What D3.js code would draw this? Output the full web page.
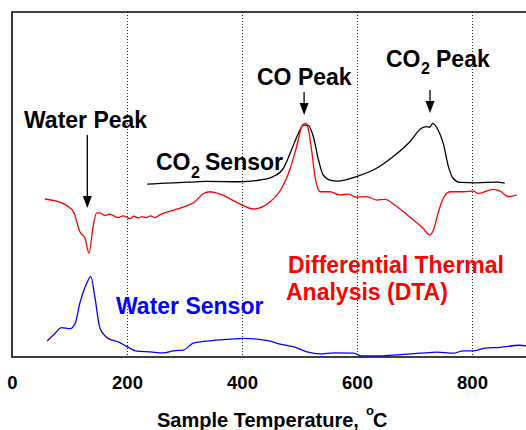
<!DOCTYPE html>
<html>
<head>
<meta charset="utf-8">
<script src="https://cdn.jsdelivr.net/npm/d3@7"></script>
<style>
  body { margin: 0; background: #fff; }
  svg { display: block; font-family: "Liberation Sans", Arial, sans-serif; font-weight: bold; }
</style>
</head>
<body>
<div id="chart"></div>
<script>
// temperature (°C), signal (arbitrary units, 0-100)
const dtaPoints = [
  [57, 45.8], [84, 44.8], [107, 42.1], [118, 36.3], [127, 34.4], [134, 30.1],
  [141, 37.8], [147, 41.7], [153, 41.8], [162, 41.0], [170, 41.4], [177, 40.9],
  [185, 40.4], [193, 40.9], [200, 40.5], [205, 40.1], [212, 40.8], [220, 40.3],
  [226, 40.7], [233, 40.4], [241, 40.9], [249, 40.4], [257, 41.2], [281, 42.6],
  [304, 43.8], [318, 45.0], [333, 47.4], [344, 47.9], [362, 47.2], [397, 44.3],
  [420, 42.9], [449, 45.0], [469, 48.9], [483, 54.2], [495, 61.0], [505, 67.2],
  [510, 67.7], [515, 66.3], [521, 60.0], [527, 52.3], [536, 47.9], [553, 47.9],
  [570, 47.0], [585, 47.2], [599, 46.3], [617, 46.5], [634, 45.5], [649, 45.7],
  [669, 43.6], [698, 39.7], [715, 37.3], [726, 35.4], [733, 36.8], [741, 41.7],
  [750, 46.0], [762, 47.9], [785, 47.9], [802, 48.1], [811, 47.4], [837, 48.6],
  [849, 48.1], [863, 46.5], [878, 46.9]
];

const co2Points = [
  [235, 50.1], [258, 50.3], [281, 50.5], [310, 50.7], [339, 50.9], [397, 50.8],
  [431, 51.3], [454, 52.3], [472, 54.7], [486, 60.0], [498, 64.8], [507, 67.2],
  [515, 67.2], [524, 63.9], [533, 57.1], [541, 52.8], [553, 51.3], [567, 51.0],
  [599, 52.3], [634, 54.7], [663, 58.1], [692, 62.4], [712, 66.3], [721, 66.8],
  [726, 66.6], [732, 67.7], [741, 65.8], [750, 61.9], [759, 55.2], [767, 51.8],
  [779, 50.6], [808, 50.5], [843, 50.7], [857, 50.4]
];

const waterPoints = [
  [61, 4.6], [75, 6.9], [86, 8.5], [101, 8.2], [110, 9.8], [118, 15.6],
  [130, 21.4], [137, 23.3], [144, 17.5], [153, 8.3], [167, 5.4], [185, 4.4],
  [200, 3.0], [217, 1.7], [240, 1.5], [263, 1.2], [281, 1.8], [298, 2.0],
  [315, 4.0], [344, 4.7], [373, 5.1], [402, 5.4], [426, 5.2], [449, 4.6],
  [466, 3.7], [489, 3.0], [513, 1.5], [536, 0.9], [559, 1.2], [594, 1.1],
  [608, 0.3], [640, 0.3], [675, 0.7], [710, 1.1], [739, 1.4], [767, 1.1],
  [785, 1.8], [802, 1.8], [820, 2.5], [849, 2.8], [883, 3.4], [894, 3.2]
];

const xTicks = [0, 200, 400, 600, 800];
const gridTicks = [200, 400, 600, 800];

const width = 526, height = 430;
const plot = { left: 12, top: 12, bottom: 357 };

const svg = d3.select("#chart").append("svg")
  .attr("width", width)
  .attr("height", height);

const x = d3.scaleLinear().domain([0, 900]).range([plot.left, plot.left + 900 * 0.575]);
const y = d3.scaleLinear().domain([0, 100]).range([plot.bottom, plot.top]);

// dotted gridlines
svg.selectAll(".grid")
  .data(gridTicks)
  .enter()
  .append("line")
  .attr("class", "grid")
  .attr("x1", d => x(d) + 0.5).attr("x2", d => x(d) + 0.5)
  .attr("y1", plot.top).attr("y2", plot.bottom)
  .attr("stroke", "#222")
  .attr("stroke-width", 1)
  .attr("stroke-dasharray", "1,2");

// frame (right side runs off the page)
svg.append("path")
  .attr("d", `M${width + 5},${plot.top}H${plot.left}V${plot.bottom}H${width + 5}`)
  .attr("fill", "none")
  .attr("stroke", "#000")
  .attr("stroke-width", 1.6);

const line = d3.line()
  .x(d => x(d[0]))
  .y(d => y(d[1]))
  .curve(d3.curveMonotoneX);

const series = [
  { points: co2Points, color: "#000" },
  { points: dtaPoints, color: "#ff0000" },
  { points: waterPoints, color: "#0000ff" }
];

svg.selectAll(".curve")
  .data(series)
  .enter()
  .append("path")
  .attr("class", "curve")
  .attr("d", d => line(d.points))
  .attr("fill", "none")
  .attr("stroke", d => d.color)
  .attr("stroke-width", 1.3);

// x axis
const xAxis = svg.append("g")
  .attr("transform", `translate(0,${plot.bottom})`)
  .call(d3.axisBottom(x).tickValues(xTicks).tickSize(0).tickPadding(19));
xAxis.select(".domain").remove();
xAxis.selectAll("text")
  .attr("fill", "#000")
  .style("font-family", "Liberation Sans, Arial, sans-serif")
  .style("font-weight", "bold")
  .style("font-size", "18.5px");

// axis title
const title = svg.append("text")
  .attr("x", 157).attr("y", 427)
  .style("font-size", "20px")
  .attr("fill", "#000");
title.append("tspan").text("Sample Temperature, ");
title.append("tspan").attr("x", 366).attr("dy", -12).style("font-size", "13px").text("o");
title.append("tspan").attr("x", 373).attr("dy", 12).text("C");

// arrows
function arrow(t, y1, y2) {
  const xp = x(t);
  svg.append("line")
    .attr("x1", xp).attr("x2", xp)
    .attr("y1", y1).attr("y2", y2 - 10)
    .attr("stroke", "#000").attr("stroke-width", 1.3);
  svg.append("path")
    .attr("d", `M${xp - 4.5},${y2 - 12}L${xp + 4.5},${y2 - 12}L${xp},${y2}Z`)
    .attr("fill", "#000");
}
arrow(131, 135, 208);
arrow(508, 92, 115);
arrow(727, 90, 113);

// labels
function label(xp, yp, text, color) {
  return svg.append("text")
    .attr("x", xp).attr("y", yp)
    .attr("fill", color)
    .style("font-size", "23px")
    .text(text);
}
label(24, 128, "Water Peak", "#000");
label(257, 85, "CO Peak", "#000");
label(116, 314, "Water Sensor", "#0000ff");

const dtaLabel = svg.append("text").attr("fill", "#ff0000").style("font-size", "23px");
dtaLabel.append("tspan").attr("x", 288).attr("y", 273).text("Differential Thermal");
dtaLabel.append("tspan").attr("x", 286).attr("y", 300).text("Analysis (DTA)");

const co2Sensor = svg.append("text").attr("fill", "#000").style("font-size", "23px");
co2Sensor.append("tspan").attr("x", 156).attr("y", 170).text("CO");
co2Sensor.append("tspan").attr("x", 191).attr("y", 178).style("font-size", "16px").text("2");
co2Sensor.append("tspan").attr("x", 205).attr("y", 170).text("Sensor");

const co2Peak = svg.append("text").attr("fill", "#000").style("font-size", "23px");
co2Peak.append("tspan").attr("x", 386).attr("y", 67).text("CO");
co2Peak.append("tspan").attr("x", 421).attr("y", 74).style("font-size", "16px").text("2");
co2Peak.append("tspan").attr("x", 436).attr("y", 67).text("Peak");
</script>
</body>
</html>
